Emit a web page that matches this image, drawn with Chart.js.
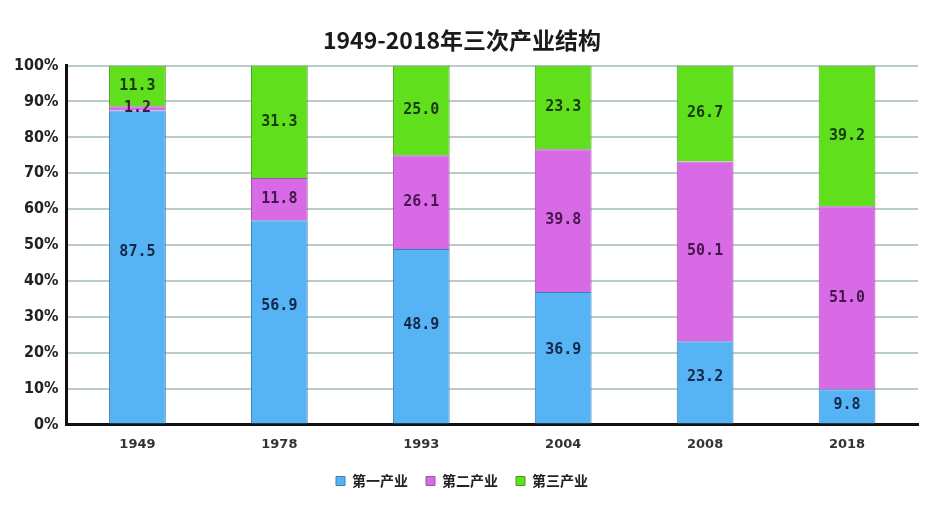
<!DOCTYPE html>
<html>
<head>
<meta charset="utf-8">
<script src="https://cdn.jsdelivr.net/npm/chart.js@4/dist/chart.umd.min.js"></script>
<style>
  html, body { margin: 0; padding: 0; background: #fff; }
  #wrap { width: 940px; height: 506px; }
</style>
</head>
<body>
<div id="wrap"><canvas id="myChart" width="940" height="506"></canvas></div>
<script>
const years = ['1949', '1978', '1993', '2004', '2008', '2018'];
const primary = [87.5, 56.9, 48.9, 36.9, 23.2, 9.8];
const secondary = [1.2, 11.8, 26.1, 39.8, 50.1, 51.0];
const tertiary = [11.3, 31.3, 25.0, 23.3, 26.7, 39.2];
const yTicks = [0, 10, 20, 30, 40, 50, 60, 70, 80, 90, 100];
// where the 第一产业 labels sit (in % units), the source didn't center them
const primaryLabelAt = [48.0, 33.1, 27.6, 20.6, 13.1, 5.3];
const labelColors = ['#14284a', '#45164c', '#173a0c'];

// draws the value inside each stacked segment
const valueLabels = {
    id: 'valueLabels',
    afterDatasetsDraw(chart) {
        const ctx = chart.ctx;
        const yScale = chart.scales.y;
        ctx.save();
        ctx.font = 'bold 15px "DejaVu Sans Mono", monospace';
        ctx.textAlign = 'center';
        ctx.textBaseline = 'middle';
        chart.data.datasets.forEach((ds, i) => {
            ctx.fillStyle = labelColors[i];
            chart.getDatasetMeta(i).data.forEach((bar, j) => {
                let y = (bar.y + bar.base) / 2;
                if (i === 0) y = yScale.getPixelForValue(primaryLabelAt[j]);
                ctx.fillText(ds.data[j].toFixed(1), bar.x, y);
            });
        });
        ctx.restore();
    }
};

const ctx = document.getElementById('myChart');
new Chart(ctx, {
    type: 'bar',
    data: {
        labels: years,
        datasets: [
            {label: '第一产业', data: primary, backgroundColor: '#56b3f4', borderColor: '#3a7fb8'},
            {label: '第二产业', data: secondary, backgroundColor: '#d96ae6', borderColor: '#9c52a8'},
            {label: '第三产业', data: tertiary, backgroundColor: '#60e01c', borderColor: '#45a018'}
        ]
    },
    options: {
        responsive: false,
        animation: false,
        devicePixelRatio: 1,
        layout: {padding: {left: 6, right: 22, top: 0, bottom: 8}},
        datasets: {
            bar: {barPercentage: 0.4, categoryPercentage: 1.0, borderWidth: 1}
        },
        plugins: {
            title: {
                display: true,
                text: '1949-2018年三次产业结构',
                color: '#1a1a1a',
                font: {size: 23, weight: 'bold', family: '"Noto Sans CJK SC", sans-serif'},
                padding: {top: 26, bottom: 12}
            },
            legend: {
                position: 'bottom',
                labels: {
                    boxWidth: 9,
                    boxHeight: 9,
                    color: '#222',
                    padding: 18,
                    font: {size: 14, weight: 'bold', family: '"Noto Sans CJK SC", sans-serif'}
                }
            },
            tooltip: {enabled: false}
        },
        scales: {
            x: {
                stacked: true,
                grid: {display: false},
                border: {color: '#111', width: 3},
                ticks: {color: '#333', padding: 4, font: {size: 13, weight: 'bold', family: '"DejaVu Sans", sans-serif'}}
            },
            y: {
                stacked: true,
                min: 0,
                max: 100,
                afterBuildTicks: axis => { axis.ticks = yTicks.map(v => ({value: v})); },
                grid: {color: '#b9ccc9', lineWidth: 2, drawTicks: false},
                border: {color: '#111', width: 3},
                ticks: {
                    color: '#222',
                    padding: 8,
                    font: {size: 16, weight: 'bold', family: '"Liberation Sans Narrow", "DejaVu Sans Condensed", sans-serif'},
                    callback: v => v + '%'
                }
            }
        }
    },
    plugins: [valueLabels]
});
</script>
</body>
</html>
